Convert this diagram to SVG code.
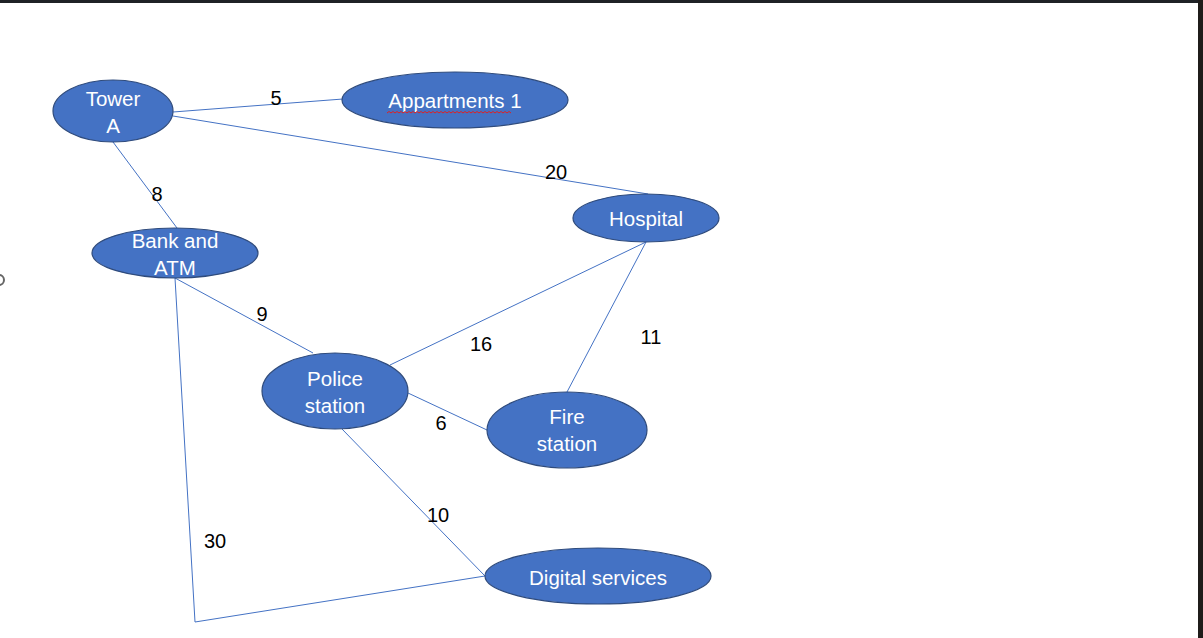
<svg xmlns="http://www.w3.org/2000/svg" width="1203" height="638" viewBox="0 0 1203 638">
<style>
.node{fill:#4472C4;stroke:#2F4B7C;stroke-width:1.2}
.nt{fill:#fff;font-family:"Liberation Sans",Arial,sans-serif;font-size:20.5px;text-anchor:middle;dominant-baseline:central}
.lbl{fill:#000;font-family:"Liberation Sans",Arial,sans-serif;font-size:20px;text-anchor:middle;dominant-baseline:central}
.edge{stroke:#4472C4;stroke-width:1;fill:none}
</style>
<rect x="0" y="0" width="1203" height="638" fill="#fff"/>
<rect x="0" y="0" width="1203" height="3" fill="#1f2226"/>
<rect x="1198" y="0" width="5" height="638" fill="#1f1c1a"/>
<circle cx="-1" cy="280" r="5" fill="none" stroke="#666" stroke-width="2"/>
<g id="connectors">
<line class="edge" x1="173" y1="112" x2="343" y2="99"/>
<line class="edge" x1="173" y1="116" x2="648" y2="194"/>
<line class="edge" x1="113" y1="142" x2="177" y2="228"/>
<line class="edge" x1="175" y1="278" x2="313" y2="353"/>
<polyline class="edge" points="175,278 195,622 485,576"/>
<line class="edge" x1="646" y1="242" x2="390" y2="365"/>
<line class="edge" x1="646" y1="242" x2="567" y2="392"/>
<line class="edge" x1="408" y1="393" x2="487" y2="430"/>
<line class="edge" x1="342" y1="429" x2="485" y2="576"/>
<text class="lbl" x="276" y="98">5</text>
<text class="lbl" x="556" y="172">20</text>
<text class="lbl" x="157" y="194">8</text>
<text class="lbl" x="262" y="314">9</text>
<text class="lbl" x="215" y="541">30</text>
<text class="lbl" x="481" y="344">16</text>
<text class="lbl" x="651" y="337">11</text>
<text class="lbl" x="441" y="423">6</text>
<text class="lbl" x="438" y="515">10</text>
</g>
<g id="tower-a">
<ellipse class="node" cx="113" cy="111" rx="60" ry="31"/>
<text class="nt" x="113" y="98">Tower</text>
<text class="nt" x="113" y="125">A</text>
</g>
<g id="appartments-1">
<ellipse class="node" cx="455" cy="100" rx="113" ry="28"/>
<text class="nt" x="455" y="100">Appartments 1</text>
<path d="M387,113 l2,-1.5 l2,1.5 l2,-1.5 l2,1.5 l2,-1.5 l2,1.5 l2,-1.5 l2,1.5 l2,-1.5 l2,1.5 l2,-1.5 l2,1.5 l2,-1.5 l2,1.5 l2,-1.5 l2,1.5 l2,-1.5 l2,1.5 l2,-1.5 l2,1.5 l2,-1.5 l2,1.5 l2,-1.5 l2,1.5 l2,-1.5 l2,1.5 l2,-1.5 l2,1.5 l2,-1.5 l2,1.5 l2,-1.5 l2,1.5 l2,-1.5 l2,1.5 l2,-1.5 l2,1.5 l2,-1.5 l2,1.5 l2,-1.5 l2,1.5 l2,-1.5 l2,1.5 l2,-1.5 l2,1.5 l2,-1.5 l2,1.5 l2,-1.5 l2,1.5 l2,-1.5 l2,1.5 l2,-1.5 l2,1.5 l2,-1.5 l2,1.5 l2,-1.5 l2,1.5 l2,-1.5 l2,1.5 l2,-1.5 l2,1.5 l2,-1.5 l2,1.5" fill="none" stroke="#e02020" stroke-width="1"/>
</g>
<g id="hospital">
<ellipse class="node" cx="646" cy="218" rx="73" ry="24"/>
<text class="nt" x="646" y="218">Hospital</text>
</g>
<g id="bank-and-atm">
<ellipse class="node" cx="175" cy="253" rx="83" ry="25"/>
<text class="nt" x="175" y="240">Bank and</text>
<text class="nt" x="175" y="267">ATM</text>
</g>
<g id="police-station">
<ellipse class="node" cx="335" cy="391" rx="73" ry="38"/>
<text class="nt" x="335" y="378">Police</text>
<text class="nt" x="335" y="405">station</text>
</g>
<g id="fire-station">
<ellipse class="node" cx="567" cy="430" rx="80" ry="38"/>
<text class="nt" x="567" y="416">Fire</text>
<text class="nt" x="567" y="443">station</text>
</g>
<g id="digital-services">
<ellipse class="node" cx="598" cy="576" rx="113" ry="28"/>
<text class="nt" x="598" y="577">Digital services</text>
</g>
</svg>
